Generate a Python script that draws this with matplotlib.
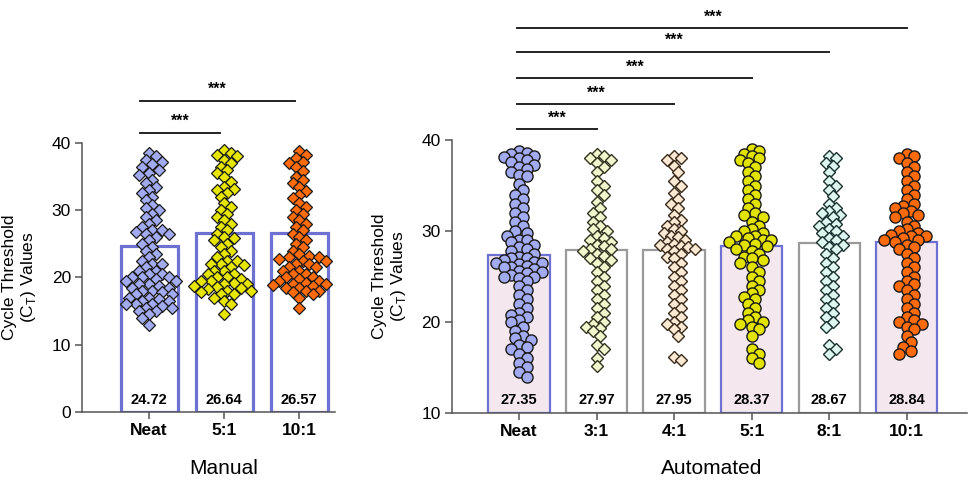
import matplotlib.pyplot as plt
import numpy as np

plt.rcParams['font.family'] = ['Liberation Sans', 'DejaVu Sans']

# ---- data ----
man_cats = ['Neat', '5:1', '10:1']
man_means = [24.72, 26.64, 26.57]
man_neat = [38.5, 38.0, 37.5, 37.2, 36.8, 36.5, 36.0, 35.5, 35.2, 34.5, 34.0, 33.5, 33.0,
            32.5, 32.0, 31.5, 30.8, 30.3, 30.0, 29.5, 29.0, 28.5, 28.0, 27.5, 27.0, 27.0,
            26.8, 26.5, 26.5, 26.0, 25.5, 25.0, 24.5, 24.0, 23.5, 23.0, 22.5, 22.0, 22.0,
            21.5, 21.0, 21.0, 20.5, 20.5, 20.0, 20.0, 20.0, 19.8, 19.5, 19.5, 19.0, 19.0,
            18.8, 18.5, 18.5, 18.0, 18.0, 17.8, 17.5, 17.5, 17.0, 17.0, 16.8, 16.5, 16.5,
            16.0, 16.0, 16.0, 15.8, 15.5, 15.5, 15.0, 15.0, 14.5, 14.0, 13.0]
man_5 = [39.0, 38.5, 38.2, 38.0, 37.5, 37.0, 36.5, 36.0, 35.5, 35.0, 34.2, 33.5, 33.2,
         33.0, 32.5, 32.0, 31.0, 30.5, 30.0, 29.5, 29.0, 28.5, 28.0, 27.5, 27.0, 26.5,
         26.0, 25.8, 25.5, 25.0, 24.5, 24.0, 23.5, 23.0, 22.5, 22.5, 22.0, 22.0, 21.8,
         21.5, 21.0, 21.0, 20.5, 20.5, 20.0, 20.0, 19.8, 19.5, 19.5, 19.2, 19.0, 19.0,
         18.8, 18.6, 18.5, 18.3, 18.0, 18.0, 17.8, 17.5, 17.5, 17.0, 16.5, 16.0, 14.5]
man_10 = [38.8, 38.2, 37.8, 37.2, 37.0, 36.5, 35.8, 35.0, 34.5, 34.0, 33.5, 32.8, 32.2,
          31.8, 31.0, 30.5, 30.0, 29.5, 29.0, 28.5, 28.0, 27.5, 27.0, 26.5, 26.0, 25.5,
          25.0, 24.5, 24.0, 23.5, 23.2, 23.0, 23.0, 22.8, 22.5, 22.5, 22.0, 22.0, 21.5,
          21.5, 21.0, 21.0, 20.5, 20.5, 20.0, 20.0, 19.8, 19.5, 19.5, 19.2, 19.0, 19.0,
          18.9, 18.8, 18.5, 18.5, 18.0, 18.0, 17.8, 17.5, 17.0, 15.5]

auto_cats = ['Neat', '3:1', '4:1', '5:1', '8:1', '10:1']
auto_means = [27.35, 27.97, 27.95, 28.37, 28.67, 28.84]
auto_neat = [38.8, 38.6, 38.5, 38.3, 38.1, 38.0, 37.8, 37.6, 37.3, 37.0, 36.8, 36.5, 36.2,
             36.0, 35.2, 34.5, 34.0, 33.5, 33.0, 32.5, 32.0, 31.5, 31.0, 30.5, 30.0, 29.8,
             29.5, 29.0, 29.0, 28.8, 28.5, 28.2, 28.0, 27.8, 27.5, 27.2, 27.0, 27.0, 26.8,
             26.6, 26.5, 26.5, 26.4, 26.2, 26.0, 26.0, 25.8, 25.6, 25.5, 25.4, 25.2, 25.0,
             25.0, 24.8, 24.5, 24.0, 23.5, 23.0, 22.5, 22.0, 21.5, 21.0, 20.8, 20.5, 20.2,
             20.0, 19.5, 19.0, 18.5, 18.2, 18.0, 17.5, 17.2, 17.0, 16.5, 16.0, 15.5, 15.0,
             14.5, 14.0]
auto_3 = [38.5, 38.2, 38.0, 37.8, 37.5, 37.0, 36.5, 35.5, 35.0, 34.5, 34.0, 33.2, 32.5,
          32.0, 31.5, 31.0, 30.5, 30.2, 30.0, 29.5, 29.2, 29.0, 28.8, 28.5, 28.3, 28.0,
          28.0, 27.8, 27.5, 27.3, 27.0, 26.8, 26.5, 26.0, 25.5, 25.0, 24.5, 24.0, 23.5,
          23.0, 22.5, 22.0, 21.5, 21.0, 20.5, 20.0, 19.8, 19.5, 19.3, 19.0, 18.5, 17.5,
          17.0, 16.0, 15.2]
auto_4 = [38.2, 38.0, 37.8, 37.2, 36.5, 35.5, 35.0, 34.2, 33.5, 33.0, 32.5, 31.8, 31.2,
          31.0, 30.5, 30.2, 30.0, 29.8, 29.5, 29.3, 29.0, 28.8, 28.6, 28.5, 28.3, 28.2,
          28.0, 28.0, 27.8, 27.5, 27.2, 27.0, 26.5, 26.0, 25.5, 25.0, 24.5, 24.0, 23.5,
          23.0, 22.5, 22.0, 21.5, 21.0, 20.5, 20.0, 19.8, 19.5, 19.2, 18.5, 16.2, 15.8]
auto_5 = [39.0, 38.8, 38.5, 38.2, 38.0, 37.8, 37.5, 37.0, 36.5, 36.0, 35.5, 35.0, 34.5,
          34.0, 33.5, 33.0, 32.5, 32.0, 31.8, 31.5, 31.0, 30.5, 30.2, 30.0, 29.8, 29.5,
          29.4, 29.2, 29.0, 29.0, 28.8, 28.6, 28.5, 28.3, 28.0, 27.8, 27.5, 27.2, 27.0,
          26.8, 26.5, 26.0, 25.5, 25.0, 24.5, 24.0, 23.5, 23.2, 22.8, 22.5, 22.0, 21.5,
          21.0, 20.5, 20.2, 20.0, 19.8, 19.5, 19.2, 18.5, 17.0, 16.5, 16.0, 15.5]
auto_8 = [38.2, 38.0, 37.5, 37.2, 36.5, 35.5, 35.0, 34.5, 33.8, 33.0, 32.5, 32.2, 32.0,
          31.8, 31.5, 31.0, 30.8, 30.5, 30.2, 30.0, 29.8, 29.5, 29.2, 29.0, 28.8, 28.5,
          28.2, 28.0, 27.5, 27.0, 26.5, 26.0, 25.5, 25.0, 24.5, 24.0, 23.5, 23.0, 22.5,
          22.0, 21.5, 21.0, 20.5, 20.0, 19.5, 17.5, 17.0, 16.5]
auto_10 = [38.5, 38.2, 38.0, 37.5, 37.0, 36.5, 36.0, 35.5, 35.0, 34.5, 34.0, 33.5, 33.0,
           32.8, 32.5, 32.2, 32.0, 31.8, 31.5, 31.0, 30.5, 30.2, 30.0, 29.8, 29.6, 29.5,
           29.4, 29.2, 29.0, 29.0, 28.8, 28.5, 28.2, 28.0, 27.5, 27.0, 26.5, 26.0, 25.5,
           25.0, 24.5, 24.2, 24.0, 23.5, 23.0, 22.5, 22.0, 21.5, 21.0, 20.5, 20.2, 20.0,
           19.8, 19.5, 19.2, 18.5, 17.8, 17.2, 16.8, 16.5]

man_data = [man_neat, man_5, man_10]
auto_data = [auto_neat, auto_3, auto_4, auto_5, auto_8, auto_10]
auto_comparisons = ['3:1', '4:1', '5:1', '8:1', '10:1']
man_comparisons = ['5:1', '10:1']

# ---- styles ----
blue = '#6d72d2'
man_face = ['#a3abf0', '#e6e600', '#ff6a0a']
auto_face = ['#a3abf0', '#f2f6cc', '#fbe9d3', '#e3e300', '#ddf6f0', '#ff6a0a']
auto_edge = ['#1a1a1a', '#333322', '#3a2a1a', '#1a1a1a', '#1a3330', '#1a1a1a']
auto_marker = ['o', 'D', 'D', 'o', 'D', 'o']
auto_bar_edge = [blue, '#9a9a9a', '#9a9a9a', blue, '#9a9a9a', blue]
auto_bar_face = ['#f4e8ee', 'white', 'white', '#f4e8ee', 'white', '#f4e8ee']


def swarm_offsets(vals, ypx, diam, overlap=0.72):
    # simple beeswarm in pixel space
    y = np.asarray(vals) * ypx
    order = np.argsort(-y)
    placed = []
    offs = np.zeros(len(y))
    step = diam * 0.35
    mind = diam * overlap
    for i in order:
        k = 0
        while True:
            cand = [0.0] if k == 0 else [k * step, -k * step]
            ok_c = None
            for c in cand:
                ok = all((c - px) ** 2 + (y[i] - py) ** 2 >= mind ** 2 for px, py in placed)
                if ok:
                    ok_c = c
                    break
            if ok_c is not None:
                offs[i] = ok_c
                placed.append((ok_c, y[i]))
                break
            k += 1
    return offs


fig = plt.figure(figsize=(9.74, 4.83), dpi=100)

def style_axes(ax):
    for s in ['top', 'right']:
        ax.spines[s].set_visible(False)
    for s in ['left', 'bottom']:
        ax.spines[s].set_color('#555555')
        ax.spines[s].set_linewidth(1.1)
    ax.tick_params(axis='both', direction='out', length=5, width=1.1, color='#555555',
                   labelsize=12.5, pad=3)
    for lab in ax.get_xticklabels():
        lab.set_fontweight('bold')

# ---- Manual ----
ax1 = fig.add_axes([0.0842, 0.147, 0.26, 0.557])
ax1.set_xlim(-0.893, 2.48)
ax1.set_ylim(0, 40)
xpx1 = 0.26 * 974 / (2.48 + 0.893)
ypx1 = 0.557 * 483 / 40
x1 = np.arange(len(man_cats))
ax1.bar(x1, man_means, width=0.76, facecolor='white', edgecolor=blue, linewidth=2.3, zorder=1)
for i, vals in enumerate(man_data):
    off = swarm_offsets(vals, ypx1, 9.5, 0.75) / xpx1
    ax1.plot(x1[i] + off, vals, ls='none', marker='D', ms=6.2, mfc=man_face[i],
             mec='#1a1a1a', mew=0.9, zorder=3)
    ax1.text(x1[i], 1.8, f'{man_means[i]:.2f}', ha='center', va='center',
             fontsize=10.5, fontweight='bold', zorder=4)
ax1.set_xticks(x1)
ax1.set_xticklabels(man_cats)
ax1.set_yticks([0, 10, 20, 30, 40])
ax1.set_ylabel('Cycle Threshold\n(C$_\\mathregular{T}$) Values', fontsize=12.5, labelpad=10,
               linespacing=1.1)
style_axes(ax1)
man_line_y = [41.5, 46.2]
for j, c in enumerate(man_comparisons):
    xe = man_cats.index(c)
    ax1.plot([-0.12, xe - 0.06], [man_line_y[j]] * 2, color='#222222', lw=1.4, clip_on=False)
    ax1.text((xe - 0.18) / 2, man_line_y[j] + 0.6, '***', ha='center', va='bottom',
             fontsize=11.5, fontweight='bold', clip_on=False)
fig.text(224 / 974, 1 - 468 / 483, 'Manual', ha='center', va='center', fontsize=15)

# ---- Automated ----
ax2 = fig.add_axes([0.464, 0.145, 0.529, 0.565])
ax2.set_xlim(-0.865, 5.78)
ax2.set_ylim(10, 40)
xpx2 = 0.529 * 974 / (5.78 + 0.865)
ypx2 = 0.565 * 483 / 30
x2 = np.arange(len(auto_cats))
ax2.bar(x2, np.array(auto_means) - 10, bottom=10, width=0.79, color=auto_bar_face,
        edgecolor=auto_bar_edge, linewidth=1.6, zorder=1)
for i, vals in enumerate(auto_data):
    mk = auto_marker[i]
    diam = 11 if mk == 'o' else 10
    off = swarm_offsets(vals, ypx2, diam, 0.64 if mk == 'o' else 0.7) / xpx2
    ax2.plot(x2[i] + off, vals, ls='none', marker=mk, ms=8 if mk == 'o' else 6.6,
             mfc=auto_face[i], mec=auto_edge[i], mew=1.0, zorder=3)
    ax2.text(x2[i], 11.4, f'{auto_means[i]:.2f}', ha='center', va='center',
             fontsize=10.5, fontweight='bold', zorder=4)
ax2.set_xticks(x2)
ax2.set_xticklabels(auto_cats)
ax2.set_yticks([10, 20, 30, 40])
ax2.set_ylabel('Cycle Threshold\n(C$_\\mathregular{T}$) Values', fontsize=12.5, labelpad=10,
               linespacing=1.1)
style_axes(ax2)
auto_line_y = [41.2, 43.96, 46.8, 49.7, 52.3]
for j, c in enumerate(auto_comparisons):
    xe = auto_cats.index(c)
    ax2.plot([-0.02, xe], [auto_line_y[j]] * 2, color='#222222', lw=1.4, clip_on=False)
    ax2.text(xe / 2, auto_line_y[j] + 0.4, '***', ha='center', va='bottom',
             fontsize=11.5, fontweight='bold', clip_on=False)
fig.text(712 / 974, 1 - 468 / 483, 'Automated', ha='center', va='center', fontsize=15)

fig.savefig('out.png', dpi=100)
